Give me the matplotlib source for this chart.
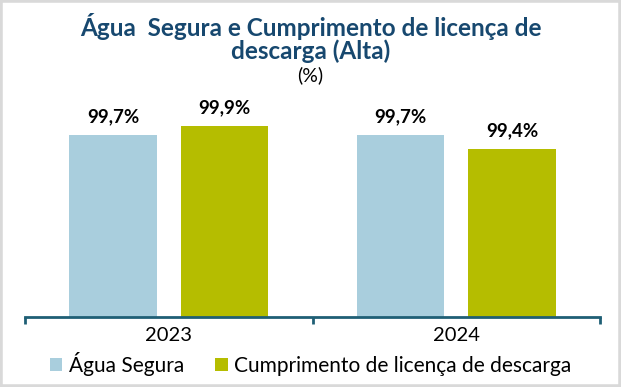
import matplotlib.pyplot as plt
from matplotlib.patches import Rectangle
import numpy as np

# data
years = ['2023', '2024']
agua_segura = [99.7, 99.7]
cumprimento = [99.9, 99.4]
series_names = ['Água Segura', 'Cumprimento de licença de descarga']

col_agua = '#A9CEDD'
col_cump = '#B5BD00'
col_axis = '#1F5F75'
col_title = '#17486F'

plt.rcParams['font.family'] = ['Lato', 'DejaVu Sans']

fig = plt.figure(figsize=(6.21, 3.87), dpi=100)
ax = fig.add_axes([25 / 621, 1 - 317 / 387, 575 / 621, 233 / 387])

x = np.arange(len(years))
w = 0.305
off = 0.194
b1 = ax.bar(x - off, agua_segura, w, color=col_agua, label=series_names[0])
b2 = ax.bar(x + off, cumprimento, w, color=col_cump, label=series_names[1])

# value labels above the bars (comma decimal)
for bars, vals in ((b1, agua_segura), (b2, cumprimento)):
    for rect, v in zip(bars, vals):
        ax.annotate(f'{v:.1f}%'.replace('.', ','),
                    (rect.get_x() + rect.get_width() / 2, rect.get_height()),
                    xytext=(0, 7), textcoords='offset points',
                    ha='center', va='bottom', fontsize=13.5, fontweight='bold')

ax.set_xlim(-0.5, 1.5)
ax.set_ylim(95.8, 100.8)
ax.set_yticks([])
for s in ['top', 'right', 'left']:
    ax.spines[s].set_visible(False)
ax.spines['bottom'].set_color(col_axis)
ax.spines['bottom'].set_linewidth(2)

ax.set_xticks(x)
ax.set_xticklabels(years, fontsize=14.5)
ax.tick_params(axis='x', which='major', length=0, pad=7)
ax.set_xticks([-0.5, 0.5, 1.5], minor=True)
ax.tick_params(axis='x', which='minor', length=5, width=2, color=col_axis,
               direction='out')

fig.text(0.5, 1 - 27 / 387, 'Água  Segura e Cumprimento de licença de',
         ha='center', va='center', fontsize=17.5, fontweight='bold', color=col_title)
fig.text(0.5, 1 - 51 / 387, 'descarga (Alta)',
         ha='center', va='center', fontsize=17.5, fontweight='bold', color=col_title)
fig.text(0.5, 1 - 75 / 387, '(%)', ha='center', va='center', fontsize=14)

fig.legend(loc='center', bbox_to_anchor=(0.5, 1 - 364 / 387), ncol=2,
           frameon=False, fontsize=15, handlelength=0.6, handleheight=0.6,
           handletextpad=0.3, columnspacing=1.5, borderaxespad=0)

fig.patches.append(Rectangle((0, 0), 1, 1, transform=fig.transFigure,
                             fill=False, edgecolor='#D9D9D9', linewidth=4))

fig.savefig('out.png', dpi=100)
